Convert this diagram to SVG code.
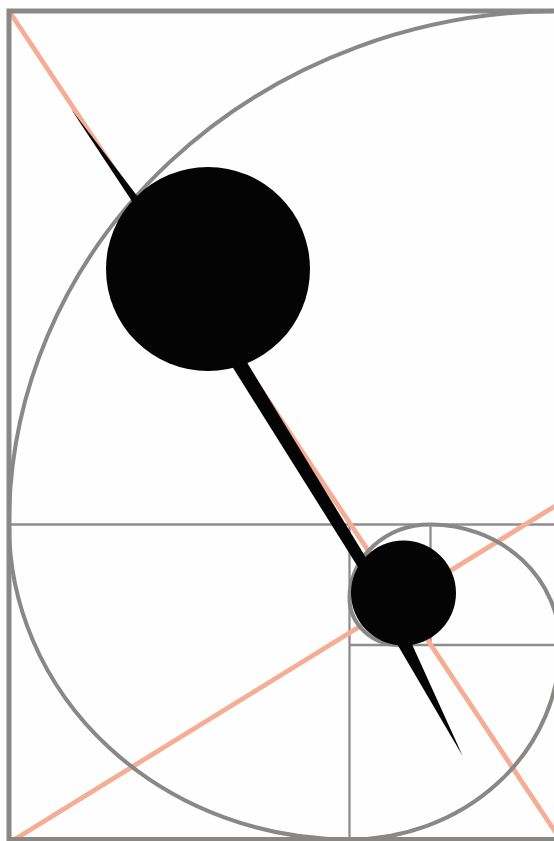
<svg xmlns="http://www.w3.org/2000/svg" width="554" height="841" viewBox="0 0 554 841">
<style>
.frame{fill:none;stroke:#8a8787;stroke-width:5}
.grid{fill:none;stroke:#8f8d8d;stroke-width:2.3}
.spiral{fill:none;stroke:#8a8787;stroke-width:4}
.diag{fill:none;stroke:#f5ad95;stroke-width:4.8;stroke-linecap:butt}
.ink{fill:#040404;stroke:none}
</style>
<rect x="0" y="0" width="554" height="841" fill="#fefefe"/>
<g id="grid">
<line class="grid" x1="9" y1="524.5" x2="560" y2="524.5"/>
<line class="grid" x1="349.5" y1="524.5" x2="349.5" y2="839"/>
<line class="grid" x1="349.5" y1="645" x2="560" y2="645"/>
<line class="grid" x1="430.5" y1="524.5" x2="430.5" y2="645"/>
</g>
<g id="diagonals">
<line class="diag" x1="9" y1="11" x2="560" y2="839"/>
<line class="diag" x1="12" y1="841" x2="560" y2="503"/>
</g>
<g id="spiral">
<path class="spiral" d="M9,524.5 A551,513.5 0 0 1 560,11"/>
<path class="spiral" d="M9,524.5 A340.5,315 0 0 0 349.5,839.5"/>
<path class="spiral" d="M349.5,839.5 A210.5,194.5 0 0 0 560,645"/>
<path class="spiral" d="M560,645 A129.5,120.5 0 0 0 430.5,524.5"/>
<path class="spiral" d="M430.5,524.5 A81,73.5 0 0 0 349.5,598"/>
<path class="spiral" d="M349.5,598 A50,47 0 0 0 399.5,645"/>
<path class="spiral" d="M399.5,645 A31,29 0 0 0 430.5,616"/>
</g>
<rect class="frame" x="9" y="11" width="551" height="828.5"/>
<g id="pendulum">
<polygon class="ink" points="71,109 160,226 151,230"/>
<polygon class="ink" points="225,355 242.5,355 376.5,575 363,575"/>
<polygon class="ink" points="383,620 401,620 462.7,756"/>
<circle class="ink" cx="208" cy="269" r="102"/>
<circle class="ink" cx="403.5" cy="593" r="52.5"/>
</g>
</svg>
